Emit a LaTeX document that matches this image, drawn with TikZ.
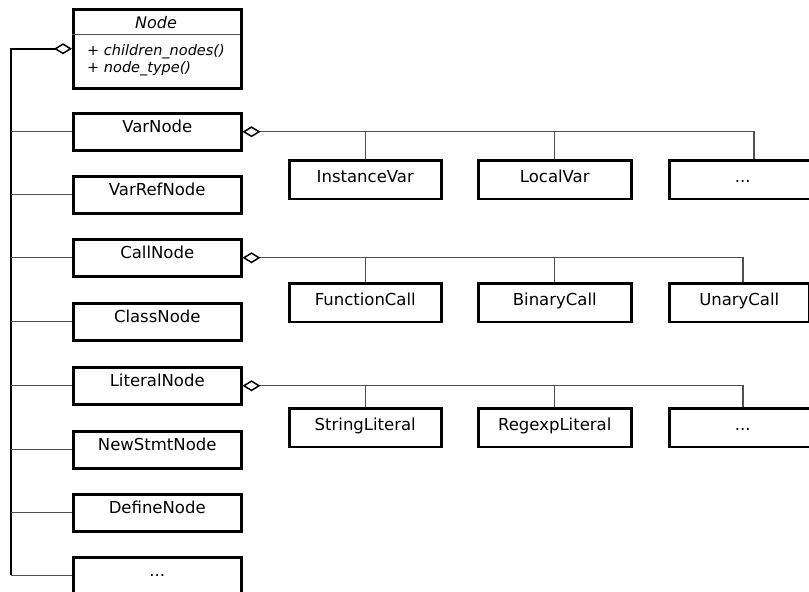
\documentclass[tikz,border=0pt]{standalone}
\usepackage{fontspec}
\setmainfont{DejaVu Sans}
\usetikzlibrary{arrows.meta}
\definecolor{connc}{HTML}{505050}
\tikzset{
  leftbox/.style={draw=black, line width=2.5pt, rectangle, inner sep=0pt, anchor=north west,
    minimum width=168pt, text height=19pt, text depth=18pt, font=\fontsize{16.5}{19}\selectfont},
  kidbox/.style={draw=black, line width=2.5pt, rectangle, inner sep=0pt, anchor=north west,
    text height=22pt, text depth=16.5pt, font=\fontsize{16.5}{19}\selectfont},
  conn/.style={draw=connc, line width=1.3pt},
  busline/.style={draw=black, line width=2pt},
  agg/.style={-{Diamond[open,color=black,length=18pt,width=11pt,line width=1.5pt]}},
}
\begin{document}
\begin{tikzpicture}[x=1pt,y=-1pt]
\useasboundingbox (0,0) rectangle (809,592);
\clip (0,0) rectangle (809,592);
% Node class
\node[draw=black, line width=2.5pt, rectangle, inner sep=0pt, anchor=north west,
  minimum width=168pt, minimum height=79pt] (nodecls) at (72,8) {};
\node[anchor=base, font=\fontsize{16}{18}\selectfont\itshape] (nodetitle) at (156,28) {Node};
\coordinate (divl) at (72,34);
\coordinate (divr) at (240,34);
\draw[draw=connc, line width=1pt] (divl) -- (divr);
\node[anchor=base west, inner sep=0pt, font=\fontsize{14.5}{17}\selectfont\itshape] (attr1) at (87,55) {+ children\_nodes()};
\node[anchor=base west, inner sep=0pt, font=\fontsize{14.5}{17}\selectfont\itshape] (attr2) at (87,72) {+ node\_type()};
% left column
\node[leftbox] (varnode) at (72,112) {VarNode};
\node[leftbox] (varref) at (72,175) {VarRefNode};
\node[leftbox] (callnode) at (72,238) {CallNode};
\node[leftbox] (classnode) at (72,302) {ClassNode};
\node[leftbox] (litnode) at (72,366) {LiteralNode};
\node[leftbox] (newstmt) at (72,430) {NewStmtNode};
\node[leftbox] (define) at (72,493) {DefineNode};
\node[leftbox] (moreleft) at (72,556) {...};
% bus
\coordinate (busbot) at (11,574.5);
\coordinate (bustop) at (busbot |- nodecls.west);
\draw[busline, agg] (busbot) -- (bustop) -- (nodecls.west);
\foreach \n in {varnode,varref,callnode,classnode,litnode,newstmt,define,moreleft}{
  \draw[conn] (\n.west) -- (\n.west -| busbot);
}
% VarNode children
\node[kidbox, minimum width=152pt] (instvar) at (288,159) {InstanceVar};
\node[kidbox, minimum width=153pt] (localvar) at (477,159) {LocalVar};
\node[kidbox, minimum width=147pt] (varmore) at (668,159) {...};
\coordinate (vardrop) at ([xshift=86pt]varmore.north west);
\draw[conn, agg] (vardrop) -- (vardrop |- varnode.east) -- (varnode.east);
\draw[conn] (instvar.north) -- (instvar.north |- varnode.east);
\draw[conn] (localvar.north) -- (localvar.north |- varnode.east);
% CallNode children
\node[kidbox, minimum width=152pt] (funcall) at (288,282) {FunctionCall};
\node[kidbox, minimum width=153pt] (bincall) at (477,282) {BinaryCall};
\node[kidbox, minimum width=140pt] (unacall) at (668,282) {UnaryCall};
\coordinate (calldrop) at ([xshift=75pt]unacall.north west);
\draw[conn, agg] (calldrop) -- (calldrop |- callnode.east) -- (callnode.east);
\draw[conn] (funcall.north) -- (funcall.north |- callnode.east);
\draw[conn] (bincall.north) -- (bincall.north |- callnode.east);
% LiteralNode children
\node[kidbox, minimum width=152pt] (strlit) at (288,407) {StringLiteral};
\node[kidbox, minimum width=153pt] (relit) at (477,407) {RegexpLiteral};
\node[kidbox, minimum width=147pt] (litmore) at (668,407) {...};
\coordinate (litdrop) at ([xshift=75pt]litmore.north west);
\draw[conn, agg] (litdrop) -- (litdrop |- litnode.east) -- (litnode.east);
\draw[conn] (strlit.north) -- (strlit.north |- litnode.east);
\draw[conn] (relit.north) -- (relit.north |- litnode.east);
\end{tikzpicture}
\end{document}
